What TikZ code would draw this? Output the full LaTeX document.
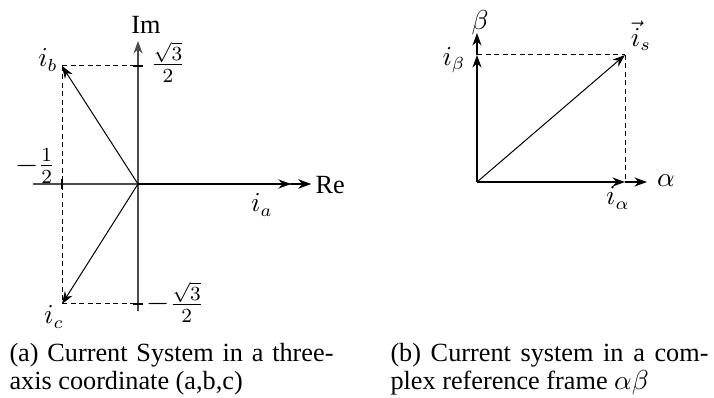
\documentclass[tikz,border=0pt]{standalone}
\usepackage[no-math]{fontspec}
\setmainfont{Liberation Serif}
\usetikzlibrary{arrows.meta}
\begin{document}
\begin{tikzpicture}[x=0.4pt,y=-0.4pt,
  axis/.style={line width=0.5pt,black!70,-{Stealth[length=5pt,width=3.6pt,inset=1.6pt]}},
  strongvec/.style={line width=0.65pt,black,-{Stealth[length=5pt,width=3.6pt,inset=1.6pt]}},
  vec/.style={line width=0.4pt,-{Stealth[length=5pt,width=3.6pt,inset=1.6pt]}},
  guide/.style={line width=0.4pt,dash pattern=on 2pt off 1.4pt},
  tickmark/.style={line width=0.6pt},
  lbl/.style={inner sep=0pt,font=\fontsize{10.5}{12}\selectfont},
  fraclbl/.style={inner sep=0pt,font=\fontsize{11.8}{13}\selectfont},
  captext/.style={anchor=base west,inner sep=0pt,font=\fontsize{10.5}{12}\selectfont}]
\useasboundingbox (0,0) rectangle (714,398);
% ---------- left diagram ----------
\coordinate (O) at (138,184);
\coordinate (imtop) at (138,41);
\coordinate (imbot) at (138,311);
\coordinate (releft) at (33,184);
\coordinate (reright) at (311,184);
\coordinate (ia) at (291,184);
\coordinate (ib) at (62,66);
\coordinate (ic) at (62,304);
\coordinate (tb) at (138,66);
\coordinate (tc) at (138,304);
\coordinate (th) at (62,184);
\draw[guide] (ib) -- (tb);
\draw[guide] (ib) -- (ic);
\draw[guide] (ic) -- (tc);
\draw[axis] (imbot) -- (imtop);
\draw[axis] (releft) -- (reright);
\draw[strongvec] (O) -- (ia);
\draw[strongvec] (ia) -- (reright);
\draw[vec] (O) -- (ib);
\draw[vec] (O) -- (ic);
\draw[tickmark] ([xshift=-2pt]tb) -- ([xshift=2pt]tb);
\draw[tickmark] ([xshift=-2pt]tc) -- ([xshift=2pt]tc);
\draw[tickmark] ([yshift=-2pt]th) -- ([yshift=2pt]th);
\node[lbl] (lIm) at (146,25) {Im};
\node[lbl,anchor=west] (lRe) at (315,185) {Re};
\node[lbl] (lib) at (48,60) {$i_b$};
\node[lbl] (lic) at (54,317) {$i_c$};
\node[lbl] (lia) at (262,205) {$i_a$};
\node[fraclbl] (lsq) at (168,62) {$\frac{\sqrt{3}}{2}$};
\node[fraclbl] (lmsq) at (175,302) {$-\frac{\sqrt{3}}{2}$};
\node[fraclbl] (lhalf) at (35,166) {$-\frac{1}{2}$};
% ---------- right diagram ----------
\coordinate (P) at (477,182);
\coordinate (btop) at (477,33);
\coordinate (ibeta) at (477,55);
\coordinate (aright) at (647,182);
\coordinate (ialpha) at (625,182);
\coordinate (is) at (625,55);
\draw[guide] (ibeta) -- (is);
\draw[guide] (is) -- (ialpha);
\draw[strongvec] (P) -- (ibeta);
\draw[strongvec] (ibeta) -- (btop);
\draw[strongvec] (P) -- (ialpha);
\draw[strongvec] (ialpha) -- (aright);
\draw[vec] (P) -- (is);
\node[lbl] (lbeta) at (480,23) {$\beta$};
\node[lbl] (libeta) at (454,60) {$i_\beta$};
\node[lbl] (lis) at (641,36) {$\vec{i}_s$};
\node[lbl] (lalpha) at (666,181) {$\alpha$};
\node[lbl] (lialpha) at (618,198) {$i_\alpha$};
% ---------- captions ----------
\node[captext] (capa1) at (9,362) {\makebox[129.6pt][s]{(a) Current System in a three-}};
\node[captext] (capa2) at (9,390) {axis coordinate (a,b,c)};
\node[captext] (capb1) at (390,362) {\makebox[127.2pt][s]{(b) Current system in a com-}};
\node[captext] (capb2) at (390,390) {plex reference frame $\alpha\beta$};
\end{tikzpicture}
\end{document}
